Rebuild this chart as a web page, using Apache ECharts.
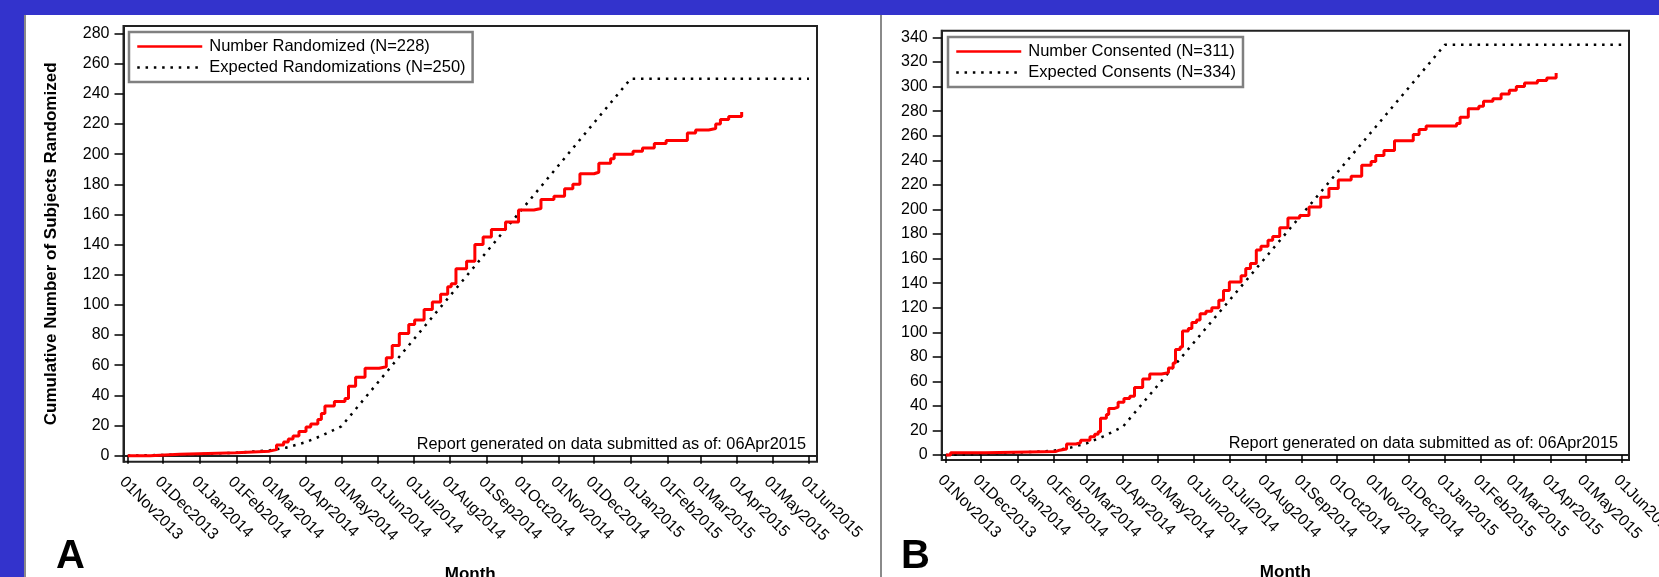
<!DOCTYPE html>
<html>
<head>
<meta charset="utf-8">
<title>Cumulative randomizations and consents</title>
<script src="https://cdn.jsdelivr.net/npm/echarts@6.0.0/dist/echarts.min.js"></script>
<style>
  html, body { margin: 0; padding: 0; background: #3333cc; overflow: hidden; }
  #chart { width: 1659px; height: 577px; }
</style>
</head>
<body>
<div id="chart"></div>
<script>
const FONT = '"Liberation Sans", Arial, Helvetica, sans-serif'
const MONTHS = ['Jan', 'Feb', 'Mar', 'Apr', 'May', 'Jun', 'Jul', 'Aug', 'Sep', 'Oct', 'Nov', 'Dec']

// x axis ticks (first of each month)
const monthTicks = [
  '2013-11-01', '2013-12-01', '2014-01-01', '2014-02-01', '2014-03-01', '2014-04-01',
  '2014-05-01', '2014-06-01', '2014-07-01', '2014-08-01', '2014-09-01', '2014-10-01',
  '2014-11-01', '2014-12-01', '2015-01-01', '2015-02-01', '2015-03-01', '2015-04-01',
  '2015-05-01', '2015-06-01'
]
const yTicksA = [0, 20, 40, 60, 80, 100, 120, 140, 160, 180, 200, 220, 240, 260, 280]
const yTicksB = [0, 20, 40, 60, 80, 100, 120, 140, 160, 180, 200, 220, 240, 260, 280, 300, 320, 340]

// panel A - randomized (cumulative, step at each date)
const randDates = [
  '2013-11-01', '2013-11-20', '2013-12-15', '2014-02-01', '2014-03-01', '2014-03-07',
  '2014-03-13', '2014-03-17', '2014-03-21', '2014-03-26', '2014-04-01', '2014-04-05',
  '2014-04-11', '2014-04-14', '2014-04-17', '2014-04-25', '2014-05-04', '2014-05-07',
  '2014-05-13', '2014-05-21', '2014-06-02', '2014-06-08', '2014-06-13', '2014-06-19',
  '2014-06-27', '2014-07-02', '2014-07-10', '2014-07-17', '2014-07-24', '2014-07-30',
  '2014-08-02', '2014-08-06', '2014-08-15', '2014-08-22', '2014-08-29', '2014-09-05',
  '2014-09-17', '2014-09-28', '2014-10-11', '2014-10-17', '2014-10-28', '2014-11-06',
  '2014-11-13', '2014-11-19', '2014-12-01', '2014-12-05', '2014-12-15', '2014-12-18',
  '2015-01-03', '2015-01-11', '2015-01-21', '2015-01-31', '2015-02-18', '2015-02-25',
  '2015-03-08', '2015-03-14', '2015-03-18', '2015-03-25', '2015-04-05'
]
const randCounts = [
  0, 1, 2, 3, 4, 7,
  9, 11, 13, 16, 19, 21,
  24, 28, 33, 36, 38, 46,
  52, 58, 59, 65, 73, 81,
  87, 90, 97, 102, 107, 112,
  114, 124, 129, 140, 145, 150,
  155, 163, 164, 170, 172, 177,
  180, 187, 188, 194, 197, 200,
  202, 204, 207, 209, 214, 216,
  217, 220, 223, 225, 228
]
const expRandDates = [
  '2013-11-01', '2013-12-01', '2014-01-01', '2014-02-01', '2014-03-01', '2014-03-15',
  '2014-04-01', '2014-04-15', '2014-05-01', '2015-01-01', '2015-06-01'
]
const expRandCounts = [0, 0.5, 1, 2, 3.5, 5.3, 9, 13.5, 19.5, 250, 250]

// panel B - consented
const consDates = [
  '2013-11-01', '2013-11-05', '2013-12-05', '2014-02-03', '2014-02-06', '2014-02-12',
  '2014-02-20', '2014-02-24', '2014-03-04', '2014-03-08', '2014-03-11', '2014-03-13',
  '2014-03-18', '2014-03-20', '2014-03-25', '2014-03-28', '2014-04-02', '2014-04-07',
  '2014-04-11', '2014-04-18', '2014-04-24', '2014-05-04', '2014-05-10', '2014-05-14',
  '2014-05-16', '2014-05-20', '2014-05-22', '2014-05-27', '2014-05-30', '2014-06-03',
  '2014-06-06', '2014-06-11', '2014-06-16', '2014-06-22', '2014-06-26', '2014-07-01',
  '2014-07-11', '2014-07-15', '2014-07-19', '2014-07-24', '2014-07-28', '2014-08-03',
  '2014-08-07', '2014-08-13', '2014-08-20', '2014-08-30', '2014-09-07', '2014-09-17',
  '2014-09-24', '2014-10-02', '2014-10-13', '2014-10-22', '2014-10-30', '2014-11-03',
  '2014-11-10', '2014-11-19', '2014-12-05', '2014-12-10', '2014-12-16', '2015-01-11',
  '2015-01-14', '2015-01-21', '2015-01-30', '2015-02-03', '2015-02-11', '2015-02-18',
  '2015-02-25', '2015-03-03', '2015-03-10', '2015-03-21', '2015-03-29', '2015-04-06'
]
const consCounts = [
  0, 2, 3, 4, 5, 9,
  10, 12, 15, 17, 19, 30,
  33, 38, 39, 43, 46, 48,
  55, 62, 66, 67, 71, 75,
  86, 88, 101, 103, 108, 110,
  115, 117, 120, 126, 134, 141,
  146, 152, 156, 167, 170, 175,
  178, 185, 193, 195, 202, 210,
  217, 224, 227, 236, 239, 244,
  248, 256, 261, 265, 268, 270,
  275, 282, 284, 288, 290, 294,
  297, 300, 303, 305, 307, 311
]
const expConsDates = [
  '2013-11-01', '2013-12-01', '2014-01-01', '2014-02-01', '2014-02-15', '2014-03-01',
  '2014-03-15', '2014-04-01', '2015-01-01', '2015-06-01'
]
const expConsCounts = [0, 1, 2, 3.5, 6, 9.5, 15, 23, 334, 334]

const DAY = 24 * 3600 * 1000
const toTime = s => {
  const p = s.split('-')
  return Date.UTC(+p[0], +p[1] - 1, +p[2])
}
const pairs = (dates, counts) => dates.map((d, i) => [toTime(d), counts[i]])
const tickTimes = monthTicks.map(toTime)
const fmtMonth = v => {
  const d = new Date(v)
  return '01' + MONTHS[d.getUTCMonth()] + d.getUTCFullYear()
}

const textStyle = { fontFamily: FONT, fontSize: 16, color: '#000' }
const titleStyle = { fontFamily: FONT, fontSize: 17, fontWeight: 'bold', color: '#000' }

const makeXAxis = (gridIndex, rightPad) => ({
  gridIndex: gridIndex,
  type: 'value',
  min: tickTimes[0] - 3.6 * DAY,
  max: tickTimes[tickTimes.length - 1] + rightPad * DAY,
  name: 'Month',
  nameLocation: 'middle',
  nameGap: 104,
  nameTextStyle: titleStyle,
  axisLine: { show: true, lineStyle: { color: '#222', width: 2 } },
  axisTick: { show: true, customValues: tickTimes, length: 8, lineStyle: { color: '#000', width: 1.5 } },
  axisLabel: Object.assign({
    customValues: tickTimes,
    rotate: -45,
    margin: 12,
    verticalAlign: 'top',
    formatter: fmtMonth
  }, textStyle),
  splitLine: { show: false }
})

const makeYAxis = (gridIndex, max, ticks, name) => ({
  gridIndex: gridIndex,
  type: 'value',
  min: -4,
  max: max,
  name: name,
  nameLocation: 'middle',
  nameGap: 64,
  nameTextStyle: titleStyle,
  axisLine: { show: true, lineStyle: { color: '#222', width: 2 } },
  axisTick: { show: true, customValues: ticks, length: 9, lineStyle: { color: '#000', width: 1.5 } },
  axisLabel: Object.assign({ customValues: ticks, margin: 14 }, textStyle),
  splitLine: { show: false }
})

const makeLegend = (left, top, names) => ({
  data: names,
  orient: 'vertical',
  left: left,
  top: top,
  padding: [5, 7, 5, 7],
  itemGap: 2,
  itemWidth: 65,
  itemHeight: 14,
  selectedMode: false,
  borderColor: '#808080',
  borderWidth: 2.5,
  backgroundColor: '#fff',
  // hide the symbol drawn in the middle of the line icon
  itemStyle: { opacity: 0 },
  lineStyle: { width: 2.5 },
  textStyle: Object.assign({}, textStyle, { fontSize: 16.5, lineHeight: 19, padding: [0, 0, 0, 2] })
})

const redLine = (name, idx, data) => ({
  name: name,
  type: 'line',
  xAxisIndex: idx,
  yAxisIndex: idx,
  step: 'end',
  symbol: 'none',
  data: data,
  lineStyle: { color: '#ff0000', width: 3 },
  itemStyle: { color: '#ff0000' },
  z: 3
})

const dottedLine = (name, idx, data) => ({
  name: name,
  type: 'line',
  xAxisIndex: idx,
  yAxisIndex: idx,
  symbol: 'none',
  data: data,
  lineStyle: { color: '#000', width: 2.5, type: [2.5, 5.8] },
  itemStyle: { color: '#000' },
  z: 2
})

const chart = echarts.init(document.getElementById('chart'))

const reportText = 'Report generated on data submitted as of: 06Apr2015'

const option = {
  animation: false,
  backgroundColor: '#3333cc',
  grid: [
    { left: 123.5, top: 26, width: 693.5, height: 435.7, show: true, borderColor: '#222', borderWidth: 2, backgroundColor: '#fff', outerBoundsMode: 'none' },
    { left: 941.7, top: 30.7, width: 687.3, height: 429.3, show: true, borderColor: '#222', borderWidth: 2, backgroundColor: '#fff', outerBoundsMode: 'none' }
  ],
  xAxis: [makeXAxis(0, 6.8), makeXAxis(1, 6.2)],
  yAxis: [
    makeYAxis(0, 285, yTicksA, 'Cumulative Number of Subjects Randomized'),
    makeYAxis(1, 345.5, yTicksB, '')
  ],
  legend: [
    makeLegend(129, 32, ['Number Randomized (N=228)', 'Expected Randomizations (N=250)']),
    makeLegend(948, 37, ['Number Consented (N=311)', 'Expected Consents (N=334)'])
  ],
  series: [
    redLine('Number Randomized (N=228)', 0, pairs(randDates, randCounts)),
    dottedLine('Expected Randomizations (N=250)', 0, pairs(expRandDates, expRandCounts)),
    redLine('Number Consented (N=311)', 1, pairs(consDates, consCounts)),
    dottedLine('Expected Consents (N=334)', 1, pairs(expConsDates, expConsCounts))
  ],
  graphic: [
    // white page with grey frame lines
    { type: 'rect', z: -100, silent: true, shape: { x: 24, y: 15, width: 1640, height: 570 }, style: { fill: '#fff' } },
    { type: 'line', z: -99, silent: true, shape: { x1: 25, y1: 15, x2: 25, y2: 577 }, style: { stroke: '#8a8a8a', lineWidth: 2 } },
    { type: 'line', z: -99, silent: true, shape: { x1: 881, y1: 15, x2: 881, y2: 577 }, style: { stroke: '#8a8a8a', lineWidth: 2 } },
    { type: 'text', x: 806, y: 445, silent: true, style: { text: reportText, font: '16.3px ' + FONT, fill: '#000', textAlign: 'right', textVerticalAlign: 'middle' } },
    { type: 'text', x: 1618, y: 444, silent: true, style: { text: reportText, font: '16.3px ' + FONT, fill: '#000', textAlign: 'right', textVerticalAlign: 'middle' } },
    { type: 'text', x: 56, y: 557, silent: true, style: { text: 'A', font: 'bold 40px ' + FONT, fill: '#000', textAlign: 'left', textVerticalAlign: 'middle' } },
    { type: 'text', x: 901, y: 557, silent: true, style: { text: 'B', font: 'bold 40px ' + FONT, fill: '#000', textAlign: 'left', textVerticalAlign: 'middle' } }
  ]
}

chart.setOption(option)
</script>
</body>
</html>
